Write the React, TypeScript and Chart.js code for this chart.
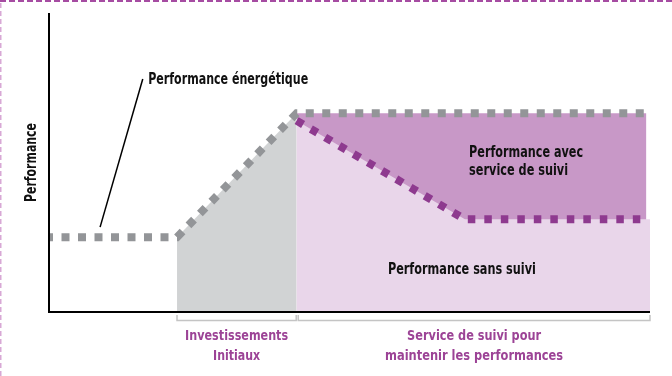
import React, { useEffect, useRef } from "react";
import { Chart, registerables } from "chart.js";

Chart.register(...registerables);

// ---- data (x: time units 0..100, y: performance 0..100) ----
const energyLineX = [0, 21.3, 41.2, 99.4];
const energyLineY = [25, 25, 66.5, 66.5];
const followLineX = [41.2, 69.2, 99.4];
const followLineY = [64, 31, 31];
const noFollowX = [41.2, 69.2, 100];
const noFollowY = [64, 31, 31];
const investX = [21.3, 41.2];
const investY = [25, 66.5];
const withFollowX = [41.2, 99.4];
const withFollowY = [66.5, 66.5];
const leaderX = [15.6, 8.5];
const leaderY = [77.9, 28.4];
const phaseBounds = [21.3, 41.3, 100];
const phaseLabels = [
  ["Investissements", "Initiaux"],
  ["Service de suivi pour", "maintenir les performances"],
];
const yTitle = "Performance";
const energyLabel = "Performance énergétique";
const withFollowLabel = ["Performance avec", "service de suivi"];
const noFollowLabel = "Performance sans suivi";

const pts = (xs: number[], ys: number[]) => xs.map((x, i) => ({ x, y: ys[i] }));

const FONT = "'DejaVu Sans Condensed', 'DejaVu Sans', sans-serif";
// text widths (px) of the narrow display face used in the original
const phaseWidths = [
  [103, 47],
  [134, 178],
];

const decorPlugin = {
  id: "decor",
  afterDatasetsDraw(chart: any) {
    const { ctx, chartArea: a, scales } = chart;
    const xs = scales.x;
    const ys = scales.y;
    const W = chart.width;
    const H = chart.height;
    ctx.save();
    // dashed frame
    ctx.setLineDash([6, 3]);
    ctx.strokeStyle = "#a64ca2";
    ctx.lineWidth = 2;
    ctx.beginPath();
    ctx.moveTo(0, 1);
    ctx.lineTo(W, 1);
    ctx.stroke();
    ctx.setLineDash([5, 3]);
    ctx.strokeStyle = "#d8a8d5";
    ctx.lineWidth = 1.5;
    ctx.beginPath();
    ctx.moveTo(0.75, 3);
    ctx.lineTo(0.75, H);
    ctx.stroke();
    ctx.setLineDash([]);
    // axes
    ctx.strokeStyle = "#000";
    ctx.lineWidth = 2;
    ctx.beginPath();
    ctx.moveTo(a.left, a.top);
    ctx.lineTo(a.left, a.bottom);
    ctx.lineTo(a.right, a.bottom);
    ctx.stroke();
    // brackets
    ctx.strokeStyle = "#c4c4c4";
    ctx.lineWidth = 1.5;
    for (let i = 0; i < phaseBounds.length - 1; i++) {
      const x0 = xs.getPixelForValue(phaseBounds[i]) + (i === 0 ? 0 : 1);
      const x1 = xs.getPixelForValue(phaseBounds[i + 1]) - (i === 0 ? 1 : 0);
      ctx.beginPath();
      ctx.moveTo(x0, a.bottom + 3);
      ctx.lineTo(x0, a.bottom + 8.5);
      ctx.lineTo(x1, a.bottom + 8.5);
      ctx.lineTo(x1, a.bottom + 3);
      ctx.stroke();
      const cx = (x0 + x1) / 2;
      ctx.fillStyle = "#9c4396";
      ctx.font = "bold 14px " + FONT;
      ctx.textAlign = "center";
      ctx.textBaseline = "middle";
      phaseLabels[i].forEach((t, j) =>
        ctx.fillText(t, cx, a.bottom + 24 + j * 20, phaseWidths[i][j])
      );
    }
    // texts
    ctx.fillStyle = "#111";
    ctx.font = "bold 15px " + FONT;
    ctx.textBaseline = "middle";
    ctx.textAlign = "left";
    ctx.fillText(energyLabel, xs.getPixelForValue(16.5), ys.getPixelForValue(77.6), 160);
    ctx.fillText(withFollowLabel[0], xs.getPixelForValue(69.9), ys.getPixelForValue(53.2), 114);
    ctx.fillText(withFollowLabel[1], xs.getPixelForValue(69.9), ys.getPixelForValue(47.2), 99);
    ctx.textAlign = "center";
    ctx.fillText(noFollowLabel, xs.getPixelForValue(68.7), ys.getPixelForValue(14), 148);
    ctx.save();
    ctx.translate(32, (a.top + a.bottom) / 2);
    ctx.rotate(-Math.PI / 2);
    ctx.fillText(yTitle, 0, 0, 79);
    ctx.restore();
    ctx.restore();
  },
};

export default function App() {
  const ref = useRef<HTMLCanvasElement | null>(null);
  useEffect(() => {
    if (!ref.current) return;
    const chart = new Chart(ref.current, {
      type: "scatter",
      data: {
        datasets: [
          {
            label: "Performance avec suivi (zone)",
            data: pts(withFollowX, withFollowY),
            showLine: true,
            borderWidth: 0,
            pointRadius: 0,
            fill: "origin",
            backgroundColor: "#c898c7",
            order: 10,
          },
          {
            label: "Performance sans suivi",
            data: pts(noFollowX, noFollowY),
            showLine: true,
            borderWidth: 0,
            pointRadius: 0,
            fill: "origin",
            backgroundColor: "#e9d6ea",
            order: 9,
          },
          {
            label: "Investissements",
            data: pts(investX, investY),
            showLine: true,
            borderWidth: 0,
            pointRadius: 0,
            fill: "origin",
            backgroundColor: "#d1d3d4",
            order: 8,
          },
          {
            label: "Performance énergétique",
            data: pts(energyLineX, energyLineY),
            showLine: true,
            borderColor: "#939598",
            borderWidth: 8,
            borderDash: [8, 8.5],
            borderDashOffset: 4,
            borderCapStyle: "butt",
            pointRadius: 0,
            fill: false,
            order: 7,
            clip: false,
          } as any,
          {
            label: "Performance avec service de suivi",
            data: pts(followLineX, followLineY),
            showLine: true,
            borderColor: "#8e3a8f",
            borderWidth: 8,
            borderDash: [7.5, 9],
            borderCapStyle: "butt",
            pointRadius: 0,
            fill: false,
            order: 6,
            clip: false,
          } as any,
          {
            label: "leader",
            data: pts(leaderX, leaderY),
            showLine: true,
            borderColor: "#000",
            borderWidth: 1.5,
            pointRadius: 0,
            fill: false,
            order: 5,
          },
        ],
      },
      options: {
        animation: false,
        responsive: false,
        layout: { padding: { left: 49, top: 13, right: 22, bottom: 64 } },
        plugins: { legend: { display: false }, tooltip: { enabled: false } },
        elements: { line: { tension: 0 } },
        scales: {
          x: { type: "linear", min: 0, max: 100, display: false },
          y: { type: "linear", min: 0, max: 100, display: false },
        },
      },
      plugins: [decorPlugin],
    });
    return () => chart.destroy();
  }, []);
  return (
    <div style={{ position: "fixed", left: 0, top: 0, width: 672, height: 376, background: "#fff" }}>
      <canvas ref={ref} width={672} height={376} />
    </div>
  );
}
